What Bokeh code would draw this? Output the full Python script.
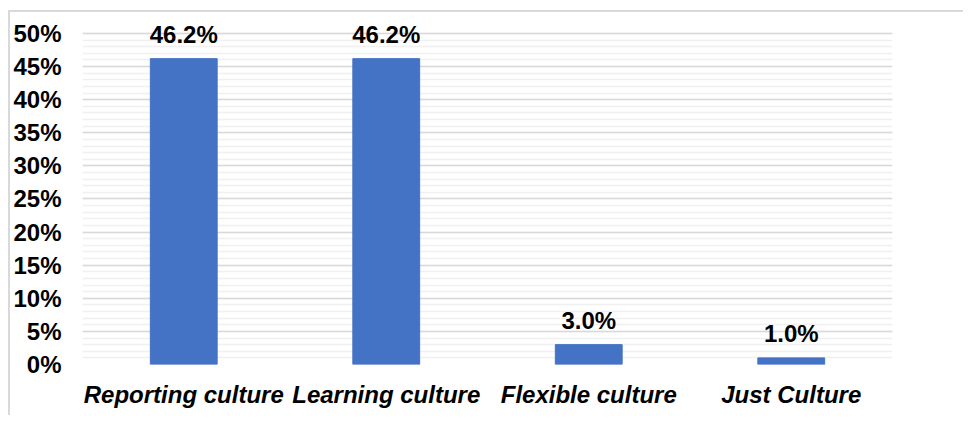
from bokeh.plotting import figure
from bokeh.models import ColumnDataSource, FactorRange, FixedTicker, NumeralTickFormatter, Range1d, LabelSet
from bokeh.core.properties import value
from bokeh.embed import file_html
from bokeh.resources import INLINE

categories = ["Reporting culture", "Learning culture", "Flexible culture", "Just Culture"]
shares = [0.462, 0.462, 0.030, 0.010]
labels = ["46.2%", "46.2%", "3.0%", "1.0%"]
major_ticks = [0.0, 0.05, 0.10, 0.15, 0.20, 0.25, 0.30, 0.35, 0.40, 0.45, 0.50]
minor_ticks = [i / 100 for i in range(0, 51)]

src = ColumnDataSource(dict(cat=categories, val=shares, lab=labels))

p = figure(x_range=FactorRange(*categories), y_range=Range1d(0, 0.5317),
           width=955, height=405, output_backend="svg", toolbar_location=None,
           min_border_left=72, min_border_right=73, min_border_top=0, min_border_bottom=53)
p.styles = {"border-top": "2px solid #d9d9d9", "border-left": "2px solid #d9d9d9",
            "margin-top": "10px", "margin-left": "8px"}
p.outline_line_color = None
p.x_range.range_padding = 0
p.x_range.factor_padding = 0

p.vbar(x="cat", top="val", width=0.33, color="#4472C4", source=src)
p.add_layout(LabelSet(x="cat", y="val", text="lab", source=src, text_align="center",
                      text_baseline="middle", y_offset=24, text_font=value("Liberation Sans"),
                      text_font_style="bold", text_font_size="24px", text_color="#000000"))

p.xgrid.grid_line_color = None
p.yaxis.ticker = FixedTicker(ticks=major_ticks, minor_ticks=minor_ticks)
p.yaxis.formatter = NumeralTickFormatter(format="0%")
p.ygrid.grid_line_color = "#d9d9d9"
p.ygrid.grid_line_width = 1.5
p.ygrid.minor_grid_line_color = "#f0f0f0"
p.ygrid.minor_grid_line_width = 1.5

for ax in (p.xaxis, p.yaxis):
    ax.axis_line_color = None
    ax.major_tick_line_color = None
    ax.minor_tick_line_color = None
    ax.major_tick_out = 0
    ax.minor_tick_out = 0
    ax.major_label_text_font = "Liberation Sans"
    ax.major_label_text_font_size = "24px"
    ax.major_label_text_color = "#000000"

p.yaxis.major_label_text_font_style = "bold"
p.yaxis.major_label_standoff = 21
p.xaxis.major_label_text_font_style = "bold italic"
p.xaxis.major_label_standoff = 16

open("out.html", "w").write(file_html(p, INLINE))
